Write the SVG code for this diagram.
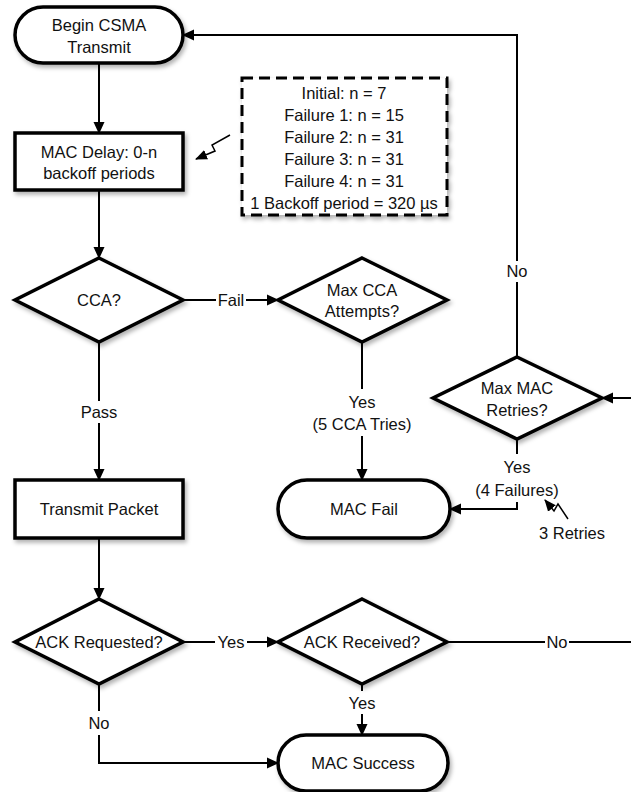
<svg xmlns="http://www.w3.org/2000/svg" width="631" height="792" viewBox="0 0 631 792">
<style>
text{font-family:"Liberation Sans",Arial,sans-serif;font-size:16.5px;fill:#111;text-anchor:middle}
.node{fill:#fff;stroke:#000;stroke-width:3.5;filter:url(#sh)}
.note{fill:#fff;stroke:#000;stroke-width:3;stroke-dasharray:11 6;filter:url(#sh)}
.c{fill:none;stroke:#000;stroke-width:2}
.a{marker-end:url(#ah)}
.z{fill:none;stroke:#000;stroke-width:1.5;marker-end:url(#ah2)}
</style>
<defs>
<filter id="sh" x="-10%" y="-10%" width="125%" height="130%">
<feDropShadow dx="2" dy="3" stdDeviation="2" flood-color="#000" flood-opacity="0.3"/>
</filter>
<marker id="ah" markerUnits="userSpaceOnUse" markerWidth="12" markerHeight="12" viewBox="0 0 12 12" refX="11" refY="6" orient="auto">
<path d="M0,0.5 L12,6 L0,11.5 Z" fill="#000"/>
</marker>
<marker id="ah2" markerUnits="userSpaceOnUse" markerWidth="12" markerHeight="12" viewBox="0 0 12 12" refX="11" refY="6" orient="auto">
<path d="M0,1 L12,6 L0,11 Z" fill="#000"/>
</marker>
</defs>
<rect width="631" height="792" fill="#fff"/>

<g id="connectors">
<path class="c a" d="M99,63 V133"/>
<path class="c a" d="M99,190 V258"/>
<path class="c" d="M183,300 H216"/>
<path class="c a" d="M246,300 H278"/>
<text x="231" y="306">Fail</text>
<path class="c" d="M99,342 V401"/>
<path class="c a" d="M99,423 V480"/>
<text x="99" y="418">Pass</text>
<path class="c" d="M362,342 V389"/>
<path class="c a" d="M362,436 V480"/>
<text x="362" y="408">Yes</text>
<text x="362" y="430">(5 CCA Tries)</text>
<path class="c" d="M517,357 V282"/>
<path class="c a" d="M517,261 V35 H183"/>
<text x="517" y="277">No</text>
<path class="c" d="M517,439 V454"/>
<path class="c a" d="M517,502 V509 H450"/>
<text x="517" y="473">Yes</text>
<text x="517" y="496">(4 Failures)</text>
<path class="c a" d="M631,398 H602"/>
<path class="c a" d="M99,538 V599"/>
<path class="c" d="M183,642 H215"/>
<path class="c a" d="M247,642 H278"/>
<text x="231" y="648">Yes</text>
<path class="c" d="M99,683 V711"/>
<path class="c a" d="M99,735 V763 H278"/>
<text x="99" y="729">No</text>
<path class="c" d="M362,683 V691"/>
<path class="c a" d="M362,714 V735"/>
<text x="362" y="709">Yes</text>
<path class="c" d="M447,642 H545"/>
<path class="c" d="M569,642 H631"/>
<text x="557" y="648">No</text>
<path class="z" d="M230,135 L212,145 L215,151 L196,159"/>
<path class="z" d="M568,519 L558,504 L554,511 L545,500"/>
</g>

<g id="begin">
<rect class="node" x="15" y="7" width="168" height="56" rx="28" ry="28"/>
<text x="99" y="31">Begin CSMA</text>
<text x="99" y="53">Transmit</text>
</g>
<g id="mac-delay">
<rect class="node" x="15" y="133" width="168" height="57"/>
<text x="99" y="158">MAC Delay: 0-n</text>
<text x="99" y="179">backoff periods</text>
</g>
<g id="note">
<rect class="note" x="242" y="78" width="205" height="137"/>
<text x="344" y="99">Initial: n = 7</text>
<text x="344" y="121">Failure 1: n = 15</text>
<text x="344" y="143">Failure 2: n = 31</text>
<text x="344" y="165">Failure 3: n = 31</text>
<text x="344" y="187">Failure 4: n = 31</text>
<text x="344" y="209">1 Backoff period = 320 µs</text>
</g>
<g id="cca">
<polygon class="node" points="99,258 183,300 99,342 15,300"/>
<text x="99" y="306">CCA?</text>
</g>
<g id="max-cca">
<polygon class="node" points="362,258 447,300 362,342 278,300"/>
<text x="362" y="296">Max CCA</text>
<text x="362" y="317">Attempts?</text>
</g>
<g id="max-mac">
<polygon class="node" points="517,357 602,398 517,439 433,398"/>
<text x="517" y="394">Max MAC</text>
<text x="517" y="416">Retries?</text>
</g>
<g id="transmit">
<rect class="node" x="15" y="480" width="168" height="58"/>
<text x="99" y="515">Transmit Packet</text>
</g>
<g id="mac-fail">
<rect class="node" x="278" y="480" width="172" height="58" rx="29" ry="29"/>
<text x="364" y="515">MAC Fail</text>
</g>
<g id="retries-label">
<text x="572" y="539">3 Retries</text>
</g>
<g id="ack-req">
<polygon class="node" points="99,599 183,642 99,684 15,642"/>
<text x="99" y="648">ACK Requested?</text>
</g>
<g id="ack-rec">
<polygon class="node" points="362,599 447,642 362,684 278,642"/>
<text x="362" y="648">ACK Received?</text>
</g>
<g id="mac-success">
<rect class="node" x="278" y="735" width="170" height="56" rx="28" ry="28"/>
<text x="363" y="769">MAC Success</text>
</g>
</svg>
